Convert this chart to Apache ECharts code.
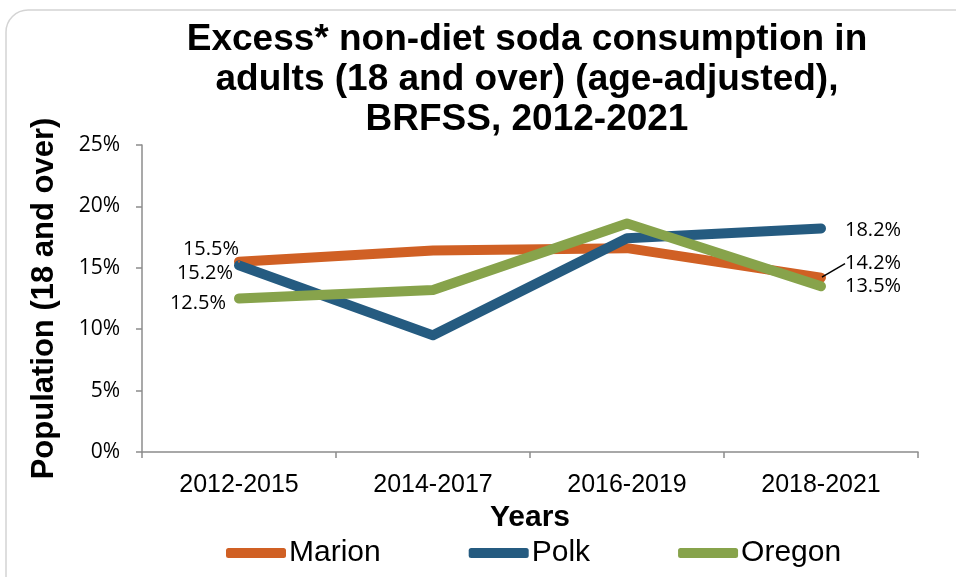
<!DOCTYPE html>
<html>
<head>
<meta charset="utf-8">
<style>html,body{margin:0;padding:0;background:#fff}#c{width:956px;height:577px}</style>
<script src="https://cdn.jsdelivr.net/npm/echarts@6/dist/echarts.min.js"></script>
</head>
<body>
<div id="c"></div>
<script>
const titleText = 'Excess* non-diet soda consumption in\nadults (18 and over) (age-adjusted),\nBRFSS, 2012-2021';
const categories = ['2012-2015', '2014-2017', '2016-2019', '2018-2021'];
const marion = [15.5, 16.4, 16.6, 14.2];
const polk = [15.2, 9.5, 17.4, 18.2];
const oregon = [12.5, 13.2, 18.6, 13.5];
const yTicks = [0, 5, 10, 15, 20, 25];

const colors = { Marion: '#D06024', Polk: '#255B80', Oregon: '#87A34B' };
const labelFont = { fontFamily: 'Open Sans', fontSize: 20, color: '#000' };

// label placements (first / last points only)
const firstLabel = {
  Marion: { position: 'left', offset: [6, -12] },
  Polk: { position: 'left', offset: [0, 8] },
  Oregon: { position: 'left', offset: [-7, 5] }
};
const lastLabel = {
  Marion: { position: 'right', offset: [0, 0] },
  Polk: { position: 'right', offset: [18, 2] },
  Oregon: { position: 'right', offset: [18, 0] }
};

function buildData(name, vals, guideIndex) {
  return vals.map((v, i) => {
    let lbl = { show: false };
    if (i === 0) lbl = Object.assign({ show: true }, labelFont, firstLabel[name]);
    if (i === vals.length - 1) lbl = Object.assign({ show: true }, labelFont, lastLabel[name]);
    return { value: v, label: lbl, labelLine: { show: i === guideIndex } };
  });
}

function mkSeries(name, vals, extra, guideIndex) {
  return Object.assign({
    name: name,
    type: 'line',
    data: buildData(name, vals, guideIndex),
    symbol: 'circle',
    symbolSize: 2,
    showSymbol: true,
    lineStyle: { width: 10, color: colors[name], cap: 'round', join: 'round' },
    itemStyle: { color: colors[name] },
    label: { formatter: p => p.value.toFixed(1) + '%' },
    emphasis: { disabled: true },
    z: 2
  }, extra || {});
}

const chart = echarts.init(document.getElementById('c'), null, { renderer: 'canvas' });
chart.setOption({
  animation: false,
  backgroundColor: '#fff',
  graphic: [{
    type: 'rect',
    shape: { x: 6, y: 10, width: 970, height: 600, r: 22 },
    style: { fill: 'none', stroke: '#d4d4d4', lineWidth: 1.5 },
    silent: true
  }],
  title: {
    text: titleText,
    left: 522,
    top: 15,
    textAlign: 'center',
    textStyle: { fontFamily: 'Liberation Sans', fontWeight: 'bold', fontSize: 37, lineHeight: 40, color: '#000' }
  },
  legend: {
    bottom: 4,
    left: 221,
    itemWidth: 60,
    itemHeight: 10,
    itemGap: 88,
    icon: 'roundRect',
    textStyle: { fontFamily: 'Liberation Sans', fontSize: 30, color: '#000', padding: [0, 0, 0, -2] },
    data: ['Marion', 'Polk', 'Oregon']
  },
  grid: { left: 142, right: 38, top: 145, bottom: 125, containLabel: false },
  xAxis: {
    type: 'category',
    data: categories,
    boundaryGap: true,
    name: 'Years',
    nameLocation: 'middle',
    nameGap: 46,
    nameTextStyle: { fontFamily: 'Liberation Sans', fontWeight: 'bold', fontSize: 30, color: '#000' },
    axisLine: { lineStyle: { color: '#8c8c8c', width: 1.5 } },
    axisTick: { show: true, length: 6, interval: 0, lineStyle: { color: '#8c8c8c', width: 1.5 } },
    axisLabel: { margin: 21, fontFamily: 'Liberation Sans', fontSize: 25, color: '#000' }
  },
  yAxis: {
    type: 'value',
    min: yTicks[0],
    max: yTicks[yTicks.length - 1],
    interval: yTicks[1] - yTicks[0],
    name: 'Population (18 and over)',
    nameLocation: 'middle',
    nameGap: 82,
    nameTextStyle: { fontFamily: 'Liberation Sans', fontWeight: 'bold', fontSize: 31, color: '#000' },
    axisLine: { show: true, lineStyle: { color: '#8c8c8c', width: 1.5 } },
    axisTick: { show: true, length: 6, lineStyle: { color: '#8c8c8c', width: 1.5 } },
    splitLine: { show: false },
    axisLabel: { margin: 22, fontFamily: 'Open Sans', fontSize: 21, color: '#000', formatter: '{value}%' }
  },
  series: [
    mkSeries('Marion', marion, {
      labelLine: { show: false, lineStyle: { color: '#000', width: 1.5 } },
      labelLayout: function (p) {
        if (p.dataIndex === 0) return { dx: 6, dy: -12 };
        if (p.dataIndex === marion.length - 1) return { dx: 18, dy: -14 };
      }
    }, marion.length - 1),
    mkSeries('Polk', polk),
    mkSeries('Oregon', oregon)
  ]
});
</script>
</body>
</html>
